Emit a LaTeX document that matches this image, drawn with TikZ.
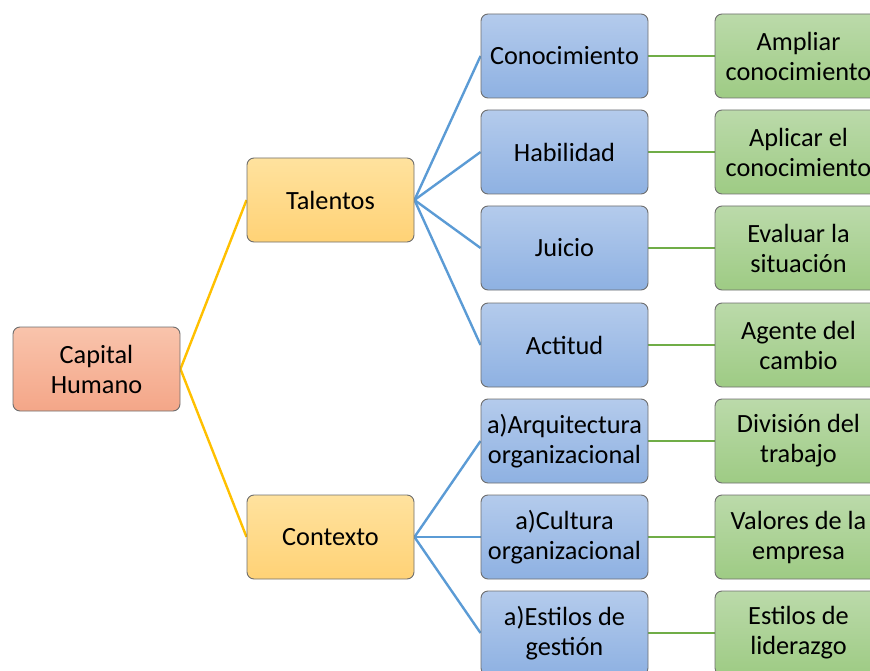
\documentclass[tikz,border=0pt]{standalone}
\usepackage{fontspec}
\setmainfont{Carlito}
\usetikzlibrary{backgrounds}
\definecolor{linegray}{RGB}{110,110,110}
\definecolor{capT}{RGB}{249,196,172}
\definecolor{capB}{RGB}{244,166,136}
\definecolor{yelT}{RGB}{255,226,158}
\definecolor{yelB}{RGB}{255,210,118}
\definecolor{bluT}{RGB}{180,203,236}
\definecolor{bluB}{RGB}{142,177,226}
\definecolor{grnT}{RGB}{187,218,170}
\definecolor{grnB}{RGB}{158,203,132}
\definecolor{yline}{RGB}{255,192,0}
\definecolor{bline}{RGB}{91,155,213}
\definecolor{gline}{RGB}{112,173,71}
\tikzset{
  box/.style={draw=linegray, line width=0.9pt, rounded corners=7pt,
    minimum width=167pt, minimum height=84pt, inner sep=2pt, align=center,
    font=\fontsize{26.3}{30}\selectfont},
  capbox/.style={box, top color=capT, bottom color=capB},
  yelbox/.style={box, top color=yelT, bottom color=yelB},
  blubox/.style={box, top color=bluT, bottom color=bluB},
  grnbox/.style={box, top color=grnT, bottom color=grnB},
  yconn/.style={draw=yline, line width=2.4pt},
  bconn/.style={draw=bline, line width=2.4pt},
  gconn/.style={draw=gline, line width=2.4pt},
}
\begin{document}
\begin{tikzpicture}[x=1pt,y=-1pt]
\clip (0,0) rectangle (870,671);
\node[capbox] (cap) at (96.5,369) {Capital\\Humano};
\node[yelbox] (tal) at (330.5,200) {Talentos};
\node[yelbox] (con) at (330.5,537) {Contexto};

\node[blubox] (b1) at (564.5,56) {Conocimiento};
\node[blubox] (b2) at (564.5,152) {Habilidad};
\node[blubox] (b3) at (564.5,248) {Juicio};
\node[blubox] (b4) at (564.5,345) {Actitud};
\node[blubox] (b5) at (564.5,441) {a)Arquitectura\\organizacional};
\node[blubox] (b6) at (564.5,537) {a)Cultura\\organizacional};
\node[blubox] (b7) at (564.5,633) {a)Estilos de\\gestión};

\node[grnbox] (g1) at (798.5,56) {Ampliar\\conocimiento};
\node[grnbox] (g2) at (798.5,152) {Aplicar el\\conocimiento};
\node[grnbox] (g3) at (798.5,248) {Evaluar la\\situación};
\node[grnbox] (g4) at (798.5,345) {Agente del\\cambio};
\node[grnbox] (g5) at (798.5,441) {División del\\trabajo};
\node[grnbox] (g6) at (798.5,537) {Valores de la\\empresa};
\node[grnbox] (g7) at (798.5,633) {Estilos de\\liderazgo};

\begin{scope}[on background layer]
\draw[yconn] (cap.east) -- (tal.west);
\draw[yconn] (cap.east) -- (con.west);
\foreach \i in {1,2,3,4} \draw[bconn] (tal.east) -- (b\i.west);
\foreach \i in {5,6,7} \draw[bconn] (con.east) -- (b\i.west);
\foreach \i in {1,...,7} \draw[gconn] (b\i.east) -- (g\i.west);
\end{scope}
\end{tikzpicture}
\end{document}
